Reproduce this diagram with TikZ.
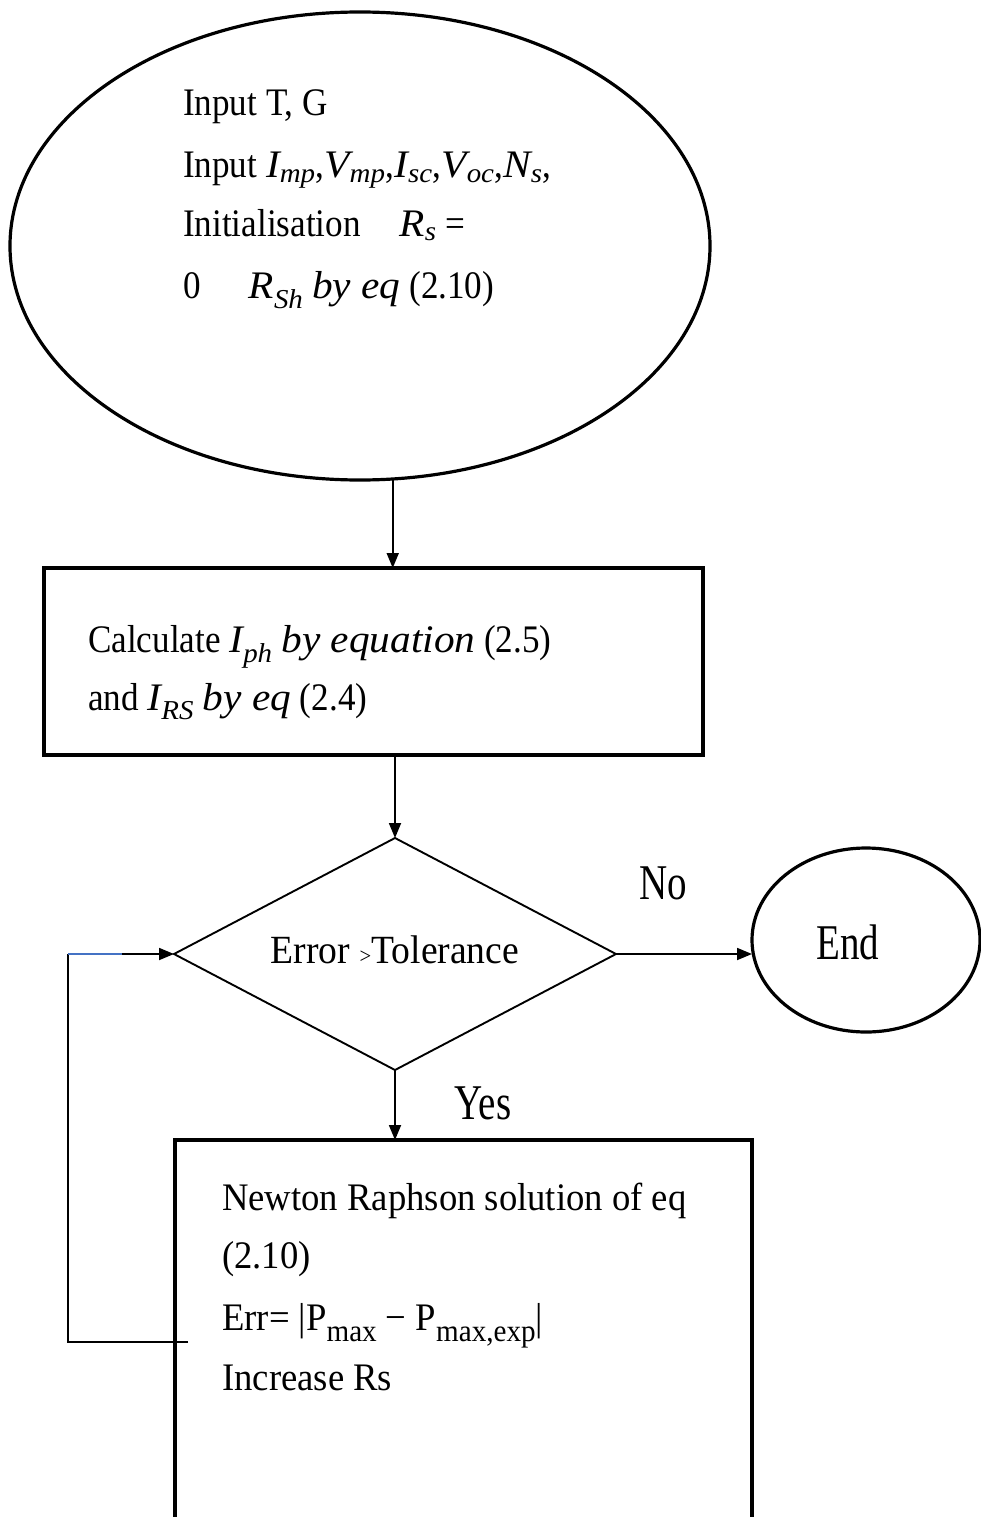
\documentclass[tikz,border=0pt]{standalone}
\usepackage{fontspec}
\setmainfont{Liberation Serif}[FakeStretch=0.9]
\newfontfamily\widefont{Liberation Serif}[FakeStretch=0.94]
\newfontfamily\italfont{Liberation Serif}[FakeStretch=1.06]
\newfontfamily\narrowfont{Liberation Serif}[FakeStretch=0.78]
\usetikzlibrary{shapes.geometric,arrows.meta,calc}

% italic symbol with italic subscript, wide face
\newcommand{\mi}[2]{{\italfont\itshape #1\textsubscript{#2}}}
% italic words set in the wider face
\newcommand{\iw}[1]{{\italfont\itshape #1}}
% larger upright subscript
\newcommand{\usb}[1]{\raisebox{-0.3em}{\fontsize{31}{31}\selectfont #1}}

\begin{document}
\begin{tikzpicture}[x=1pt,y=-1pt,
  thick shape/.style={draw=black,line width=3.2pt,inner sep=0pt,outer sep=0pt},
  thin shape/.style={draw=black,line width=1.9pt,inner sep=0pt,outer sep=0pt},
  conn/.style={draw=black,line width=1.8pt},
  arrow/.style={conn,-{Triangle[length=15pt,width=12pt]}},
  txt/.style={anchor=base west,inner sep=0pt,font=\fontsize{39}{46}\selectfont},
  nrtxt/.style={anchor=base west,inner sep=0pt,font=\widefont\fontsize{39}{46}\selectfont},
  lbl/.style={inner sep=0pt,font=\narrowfont\fontsize{50}{56}\selectfont}
]
\useasboundingbox (0,0) rectangle (980,1517);

% shapes
\node[thick shape,ellipse,minimum width=700pt,minimum height=468pt] (start) at (360,246) {};
\node[thick shape,rectangle,minimum width=659pt,minimum height=187pt] (calc) at (373.5,661.5) {};
\node[thin shape,diamond,minimum width=442pt,minimum height=232pt] (dec) at (395,954) {};
\node[thick shape,ellipse,minimum width=228pt,minimum height=184pt] (endn) at (866,940) {};
\node[thick shape,rectangle,minimum width=577pt,minimum height=390pt] (nr) at (463.5,1335) {};

% texts of the start ellipse
\node[txt] (s1) at (183,116) {Input T, G};
\node[txt] (s2) at (183,178) {Input \mi{I}{mp},\mi{V}{mp},\mi{I}{sc},\mi{V}{oc},\mi{N}{s},};
\node[txt] (s3) at (183,236) {Initialisation\quad \mi{R}{s} =};
\node[txt] (s4) at (183,298) {0\hspace{48pt}\mi{R}{Sh} \iw{by eq} (2.10)};

% texts of the first process box
\node[txt] (c1) at (88,652) {Calculate \mi{I}{ph} \iw{by equation} (2.5)};
\node[txt] (c2) at (88,710) {and \mi{I}{RS} \iw{by eq} (2.4)};

% decision text
\node[inner sep=0pt,font=\widefont\fontsize{40}{46}\selectfont] (dtxt) at (395,950)
  {Error {\fontsize{22}{22}\selectfont >}Tolerance};

% labels
\node[lbl] (no) at (663,883) {No};
\node[lbl] (yes) at (483,1103) {Yes};
\node[lbl] (endtxt) at (848,942) {End};

% texts of the Newton--Raphson box
\node[nrtxt] (n1) at (222,1210) {Newton Raphson solution of eq};
\node[nrtxt] (n2) at (222,1268) {(2.10)};
\node[nrtxt] (n3) at (222,1330) {Err= |P\usb{max} − P\usb{max,exp}|};
\node[nrtxt] (n4) at (222,1390) {Increase Rs};

% connectors
\draw[arrow] (start.-82) -- (start.-82 |- calc.north);
\draw[arrow] (dec.north |- calc.south) -- (dec.north);
\draw[arrow] (dec.east) -- (dec.east -| endn.west);
\draw[arrow] (dec.south) -- (dec.south |- nr.north);

% feedback loop
\coordinate (loopin) at (188,1342);
\coordinate (loopx) at (68,954);
\coordinate (bluend) at (122,954);
\draw[conn] (loopin) -| (loopx);
\draw[draw={rgb,255:red,68;green,114;blue,196},line width=1.8pt] (loopx) -- (bluend);
\draw[arrow] (bluend) -- (dec.west);
\end{tikzpicture}
\end{document}
